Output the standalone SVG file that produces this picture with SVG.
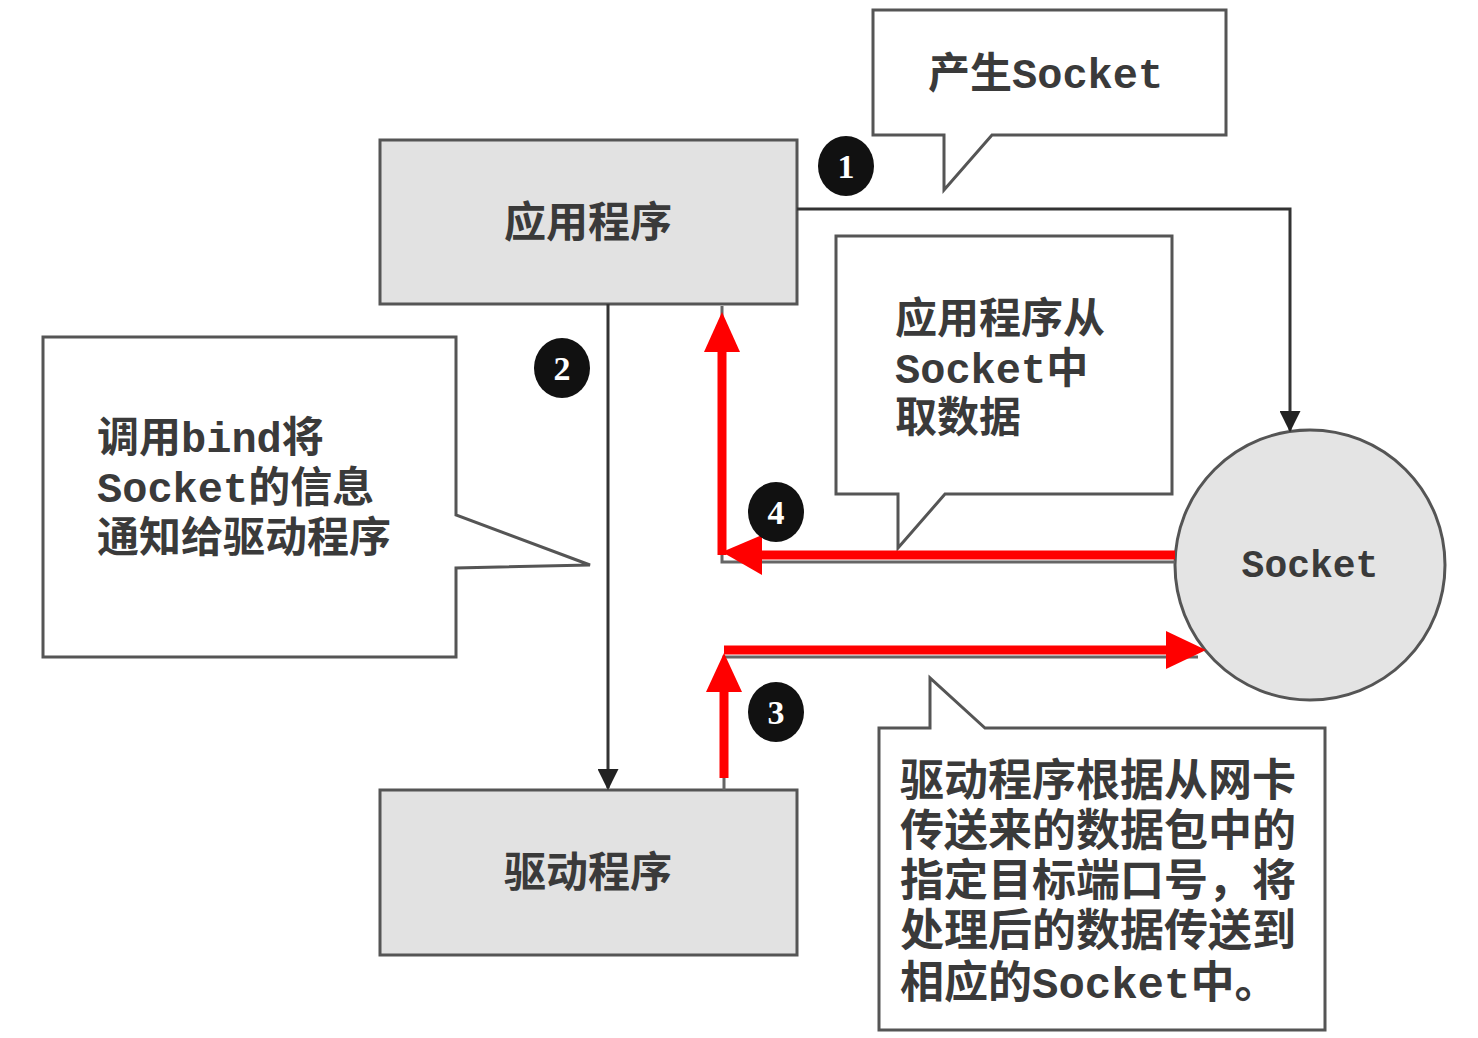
<svg xmlns="http://www.w3.org/2000/svg" width="1478" height="1038" viewBox="0 0 1478 1038">
<defs>
<style>
.box{fill:#e2e2e2;stroke:#555;stroke-width:3}
.call{fill:#fff;stroke:#555;stroke-width:3;stroke-linejoin:miter}
.t{font-family:"Liberation Mono","Noto Sans CJK SC",monospace;font-weight:bold;fill:#3a3a3a}
.thin{fill:none;stroke:#333;stroke-width:3}
.gray{fill:none;stroke:#666;stroke-width:3}
.red{fill:none;stroke:#f00;stroke-width:9}
.rh{fill:#f00}
.num{fill:#111}
.nt{font-family:"Liberation Serif",serif;font-weight:bold;font-size:34px;fill:#fff;text-anchor:middle}
</style>
<marker id="ah" viewBox="0 0 10 10" refX="9" refY="5" markerWidth="7" markerHeight="7" markerUnits="strokeWidth" orient="auto">
<path d="M0,0 L10,5 L0,10 z" fill="#222"/>
</marker>
</defs>
<rect width="1478" height="1038" fill="#fff"/>

<g id="app">
<rect class="box" x="380" y="140" width="417" height="164"/>
<text class="t" x="588" y="237" font-size="42" text-anchor="middle">应用程序</text>
</g>

<g id="driver">
<rect class="box" x="380" y="790" width="417" height="165"/>
<text class="t" x="588" y="887" font-size="42" text-anchor="middle">驱动程序</text>
</g>

<g id="socket">
<circle cx="1310" cy="565" r="135" fill="#e4e4e4" stroke="#555" stroke-width="3"/>
<text class="t" x="1310" y="577" font-size="38" text-anchor="middle">Socket</text>
</g>

<g id="callout-create">
<path class="call" d="M873,10 H1226 V135 H992 L944,190 V135 H873 Z"/>
<text class="t" x="928" y="88" font-size="42">产生Socket</text>
</g>

<g id="callout-bind">
<path class="call" d="M43,337 H456 V515 L590,565 L456,568 V657 H43 Z"/>
<text class="t" font-size="42"><tspan x="97" y="452">调用bind将</tspan><tspan x="97" y="502">Socket的信息</tspan><tspan x="97" y="552">通知给驱动程序</tspan></text>
</g>

<g id="callout-read">
<path class="call" d="M836,236 H1172 V494 H945 L898,548 V494 H836 Z"/>
<text class="t" font-size="42"><tspan x="895" y="333">应用程序从</tspan><tspan x="895" y="383">Socket中</tspan><tspan x="895" y="432">取数据</tspan></text>
</g>

<g id="callout-driver">
<path class="call" d="M879,728 H930 V678 L985,728 H1325 V1030 H879 Z"/>
<text class="t" font-size="44"><tspan x="900" y="796">驱动程序根据从网卡</tspan><tspan x="900" y="846">传送来的数据包中的</tspan><tspan x="900" y="896">指定目标端口号，将</tspan><tspan x="900" y="946">处理后的数据传送到</tspan><tspan x="900" y="998">相应的Socket中。</tspan></text>
</g>

<g id="connectors">
<path class="thin" d="M797,209 H1290 V430" marker-end="url(#ah)"/>
<path class="thin" d="M608,304 V788" marker-end="url(#ah)"/>
<path class="gray" d="M1175,562 H722 V306"/>
<path class="gray" d="M724,790 V657 H1198"/>
<path class="red" d="M1175,555 H760"/>
<path class="red" d="M722,555 V350"/>
<polygon class="rh" points="722,552 762,535 762,575"/>
<polygon class="rh" points="722,312 704,352 740,352"/>
<path class="red" d="M724,778 V690"/>
<path class="red" d="M724,650 H1168"/>
<polygon class="rh" points="724,653 706,692 742,692"/>
<polygon class="rh" points="1206,650 1166,631 1166,669"/>
</g>

<g id="steps">
<ellipse class="num" cx="846" cy="166" rx="28" ry="30"/><text class="nt" x="846" y="178">1</text>
<ellipse class="num" cx="562" cy="368" rx="28" ry="30"/><text class="nt" x="562" y="380">2</text>
<ellipse class="num" cx="776" cy="512" rx="28" ry="30"/><text class="nt" x="776" y="524">4</text>
<ellipse class="num" cx="776" cy="712" rx="28" ry="30"/><text class="nt" x="776" y="724">3</text>
</g>
</svg>
